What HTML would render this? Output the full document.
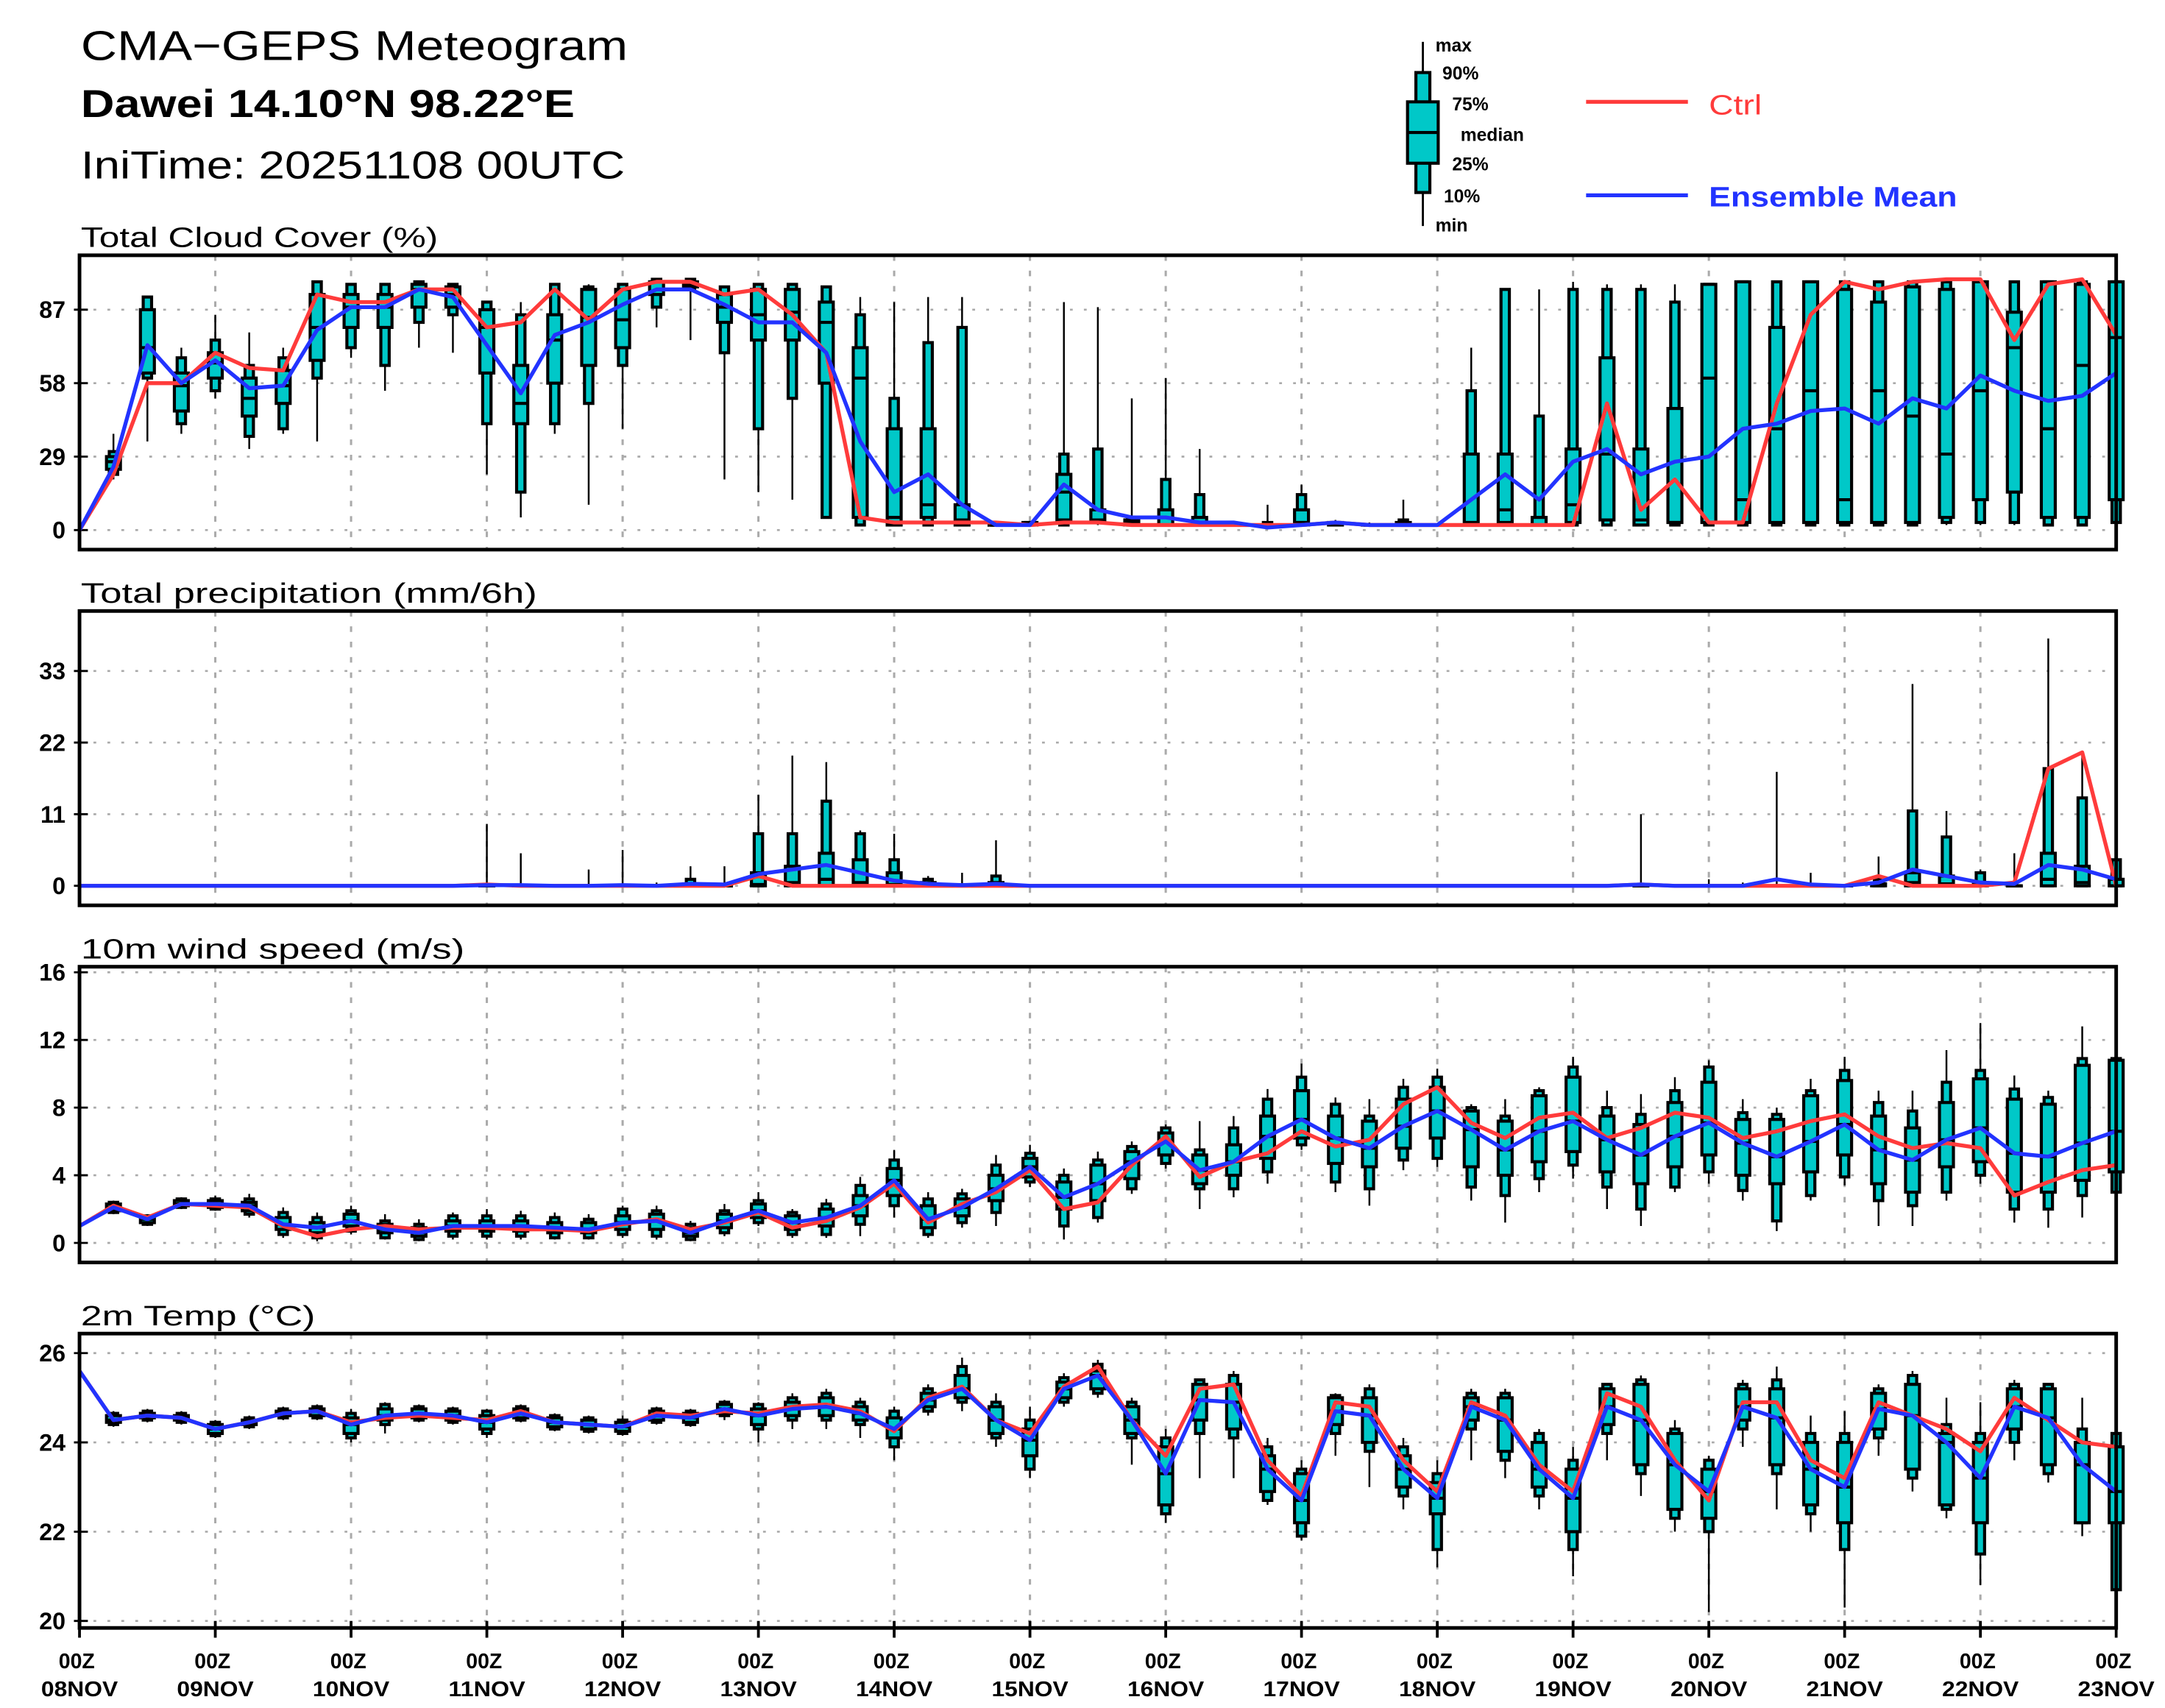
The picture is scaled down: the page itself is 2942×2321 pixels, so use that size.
<!DOCTYPE html>
<html><head><meta charset="utf-8"><style>
html,body{margin:0;padding:0;background:#fff;}
svg{display:block;}
text{font-family:"Liberation Sans",sans-serif;}
</style></head><body>
<svg id="chart" xmlns="http://www.w3.org/2000/svg" width="2942" height="2321" viewBox="0 0 1552 1224.4" preserveAspectRatio="none">
<rect x="0" y="0" width="1552" height="1224.4" fill="#fff"/>
<text x="58" y="43" font-size="30" textLength="392" lengthAdjust="spacingAndGlyphs">CMA−GEPS Meteogram</text>
<text x="58" y="84" font-size="28" font-weight="bold" textLength="354" lengthAdjust="spacingAndGlyphs">Dawei 14.10°N 98.22°E</text>
<text x="58" y="128" font-size="28" textLength="390" lengthAdjust="spacingAndGlyphs">IniTime: 20251108 00UTC</text>
<g id="legend">
  <line x1="1020" y1="30" x2="1020" y2="162" stroke="#000" stroke-width="1.5"/>
  <rect x="1015" y="52" width="10" height="86" fill="#00c8c8" stroke="#000" stroke-width="2.2"/>
  <rect x="1009" y="73" width="22" height="44" fill="#00c8c8" stroke="#000" stroke-width="2.2"/>
  <line x1="1009" y1="95" x2="1031" y2="95" stroke="#000" stroke-width="2.2"/>
  <g font-size="13" font-weight="bold">
  <text x="1029" y="37">max</text><text x="1034" y="57">90%</text><text x="1041" y="79">75%</text>
  <text x="1047" y="101">median</text><text x="1041" y="122">25%</text><text x="1035" y="145">10%</text><text x="1029" y="166">min</text>
  </g>
  <line x1="1137" y1="73" x2="1210" y2="73" stroke="#ff3b3b" stroke-width="2.8"/>
  <text x="1225" y="82" font-size="20" fill="#ff3b3b" textLength="38" lengthAdjust="spacingAndGlyphs">Ctrl</text>
  <line x1="1137" y1="140" x2="1210" y2="140" stroke="#2233ff" stroke-width="2.8"/>
  <text x="1225" y="148" font-size="20" fill="#2233ff" font-weight="bold" textLength="178" lengthAdjust="spacingAndGlyphs">Ensemble Mean</text>
</g>
<g id="panels"></g>
</svg>
<script>
// ---------- data ----------
const days = ["08NOV","09NOV","10NOV","11NOV","12NOV","13NOV","14NOV","15NOV","16NOV","17NOV","18NOV","19NOV","20NOV","21NOV","22NOV","23NOV"];
// Cloud cover (%)
const tccMin=[0,20,35,38,52,32,38,35,68,55,72,70,22,5,38,10,40,80,75,20,15,12,5,2,2,2,2,2,2,2,2,2,2,2,2,2,2,2,2,2,2,2,2,2,2,2,2,2,2,2,2,2,2,2,2,2,2,2,2,2,2];
const tccP10=[0,22,60,42,55,37,40,60,72,65,82,85,42,15,42,50,65,88,95,70,40,52,5,2,2,2,2,2,2,2,3,2,2,2,2,2,2,2,2,2,2,2,2,2,2,2,2,2,2,2,2,2,2,2,2,3,3,3,2,2,3];
const tccQ1=[0,24,62,47,60,45,50,67,80,80,88,88,62,42,58,65,72,93,96,82,75,75,58,5,2,5,2,2,2,4,3,2,2,2,2,2,2,2,2,2,2,2,3,2,3,4,2,3,3,3,3,3,3,3,3,5,12,15,5,5,12];
const tccMed=[0,27,72,57,66,52,57,80,88,88,95,93,80,50,75,84,83,98,97,88,85,86,82,60,5,10,4,2,2,15,4,3,2,3,2,2,3,2,2,2,2,3,8,2,10,30,4,3,60,12,40,55,12,55,45,30,55,72,40,65,76];
const tccQ3=[0,29,87,62,70,60,63,93,93,93,97,96,87,65,85,95,95,98,98,93,95,95,90,72,40,40,10,2,3,22,8,4,8,5,2,2,8,3,2,3,2,30,30,5,32,68,32,48,97,98,80,98,95,90,96,95,98,86,98,97,98];
const tccP90=[0,31,92,68,75,65,68,98,97,97,98,97,90,85,97,96,97,99,99,96,97,97,96,85,52,74,80,2,3,30,32,5,20,14,2,3,14,3,2,4,2,55,95,45,95,95,95,90,97,98,98,98,98,98,98,98,98,98,98,98,98];
const tccMax=[0,38,92,72,85,78,72,98,97,97,98,97,90,90,97,97,97,99,99,96,97,97,96,92,90,92,92,2,3,90,88,52,60,32,2,10,18,4,3,12,2,72,95,95,98,97,97,97,97,98,98,98,98,98,98,98,98,98,98,98,98];
const tccCtrl=[0,22,58,58,70,64,63,93,90,90,95,95,80,82,95,83,95,98,98,93,95,85,70,5,3,3,3,3,2,3,3,2,2,2,2,2,2,3,2,2,2,2,2,2,2,50,8,20,3,3,50,85,98,95,98,99,99,75,97,99,77];
const tccMean=[0,25,73,58,67,56,57,79,88,88,95,92,73,54,77,82,89,95,95,89,82,82,70,35,15,22,10,2,2,18,8,5,5,3,3,1,2,3,2,2,2,12,22,12,27,32,22,27,29,40,42,47,48,42,52,48,61,55,51,53,62];
// Precipitation (mm/6h)
const prMin=[0,0,0,0,0,0,0,0,0,0,0,0,0,0,0,0,0,0,0,0,0,0,0,0,0,0,0,0,0,0,0,0,0,0,0,0,0,0,0,0,0,0,0,0,0,0,0,0,0,0,0,0,0,0,0,0,0,0,0,0,0];
const prP10=prMin;
const prQ1=[0,0,0,0,0,0,0,0,0,0,0,0,0,0,0,0,0,0,0,0,0,0,0,0,0,0,0,0,0,0,0,0,0,0,0,0,0,0,0,0,0,0,0,0,0,0,0,0,0,0,0,0,0,0,0,0,0,0,0,0,0];
const prMed=[0,0,0,0,0,0,0,0,0,0,0,0,0,0,0,0,0,0,0,0,0.2,0.5,1,0.5,0.2,0,0,0,0,0,0,0,0,0,0,0,0,0,0,0,0,0,0,0,0,0,0,0,0,0,0,0,0,0,0.5,0.3,0,0,1,0.5,0];
const prQ3=[0,0,0,0,0,0,0,0,0,0,0,0,0,0,0,0,0,0,0.3,0,2,3,5,4,2,0.5,0,0.5,0,0,0,0,0,0,0,0,0,0,0,0,0,0,0,0,0,0,0,0,0,0,0,0,0,0.3,2,1.5,0.5,0,5,3,1];
const prP90=[0,0,0,0,0,0,0,0,0,0,0,0,0,0,0,0,0,0,1,0,8,8,13,8,4,1,0,1.5,0,0,0,0,0,0,0,0,0,0,0,0,0,0,0,0,0,0,0,0,0,0,0,0,0,1,11.5,7.5,2,0,18,13.5,4];
const prMax=[0,0,0,0,0,0,0,0,0,0,0,0,9.5,5,0,2.5,5.5,0.5,3,3,14,20,19,8.5,8,1.5,2,7,0,0,0,0,0,0,0,0,0,0,0,0,0,0,0,0,0,0,11,0,1,0.5,17.5,2,0,4.5,31,11.5,2.5,5,38,20,5];
const prCtrl=[0,0,0,0,0,0,0,0,0,0,0,0,0.2,0,0,0,0,0,0,0,1.5,0,0,0,0,0,0,0,0,0,0,0,0,0,0,0,0,0,0,0,0,0,0,0,0,0,0.2,0,0,0,0,0,0,1.5,0,0,0,0.5,18,20.5,0];
const prMean=[0,0,0,0,0,0,0,0,0,0,0,0,0.1,0.1,0,0,0.1,0,0.3,0.2,1.8,2.5,3.2,2,0.8,0.3,0.1,0.3,0,0,0,0,0,0,0,0,0,0,0,0,0,0,0,0,0,0,0.2,0,0,0,1,0.2,0,0.5,2.5,1.5,0.5,0.3,3.2,2.5,1];
// 10m wind speed (m/s)
const wsMin=[1,1.7,1.0,2.0,1.9,1.5,0.3,0.1,0.5,0.2,0.1,0.2,0.2,0.2,0.2,0.2,0.3,0.2,0.1,0.4,1.0,0.3,0.3,0.4,1.5,0.3,0.9,1.0,3.3,0.2,1.2,2.9,4.4,2.0,2.7,3.5,5.5,3.0,2.2,4.3,4.5,2.5,1.2,3.0,3.8,2.0,1.0,3.0,3.5,2.5,0.7,2.5,3.4,1.0,1.0,2.5,3.5,1.2,0.9,1.5,1.2];
const wsP10=[1,1.8,1.1,2.1,2.0,1.7,0.5,0.3,0.7,0.3,0.2,0.4,0.4,0.4,0.3,0.3,0.5,0.4,0.2,0.6,1.2,0.5,0.5,1.1,2.2,0.5,1.2,1.8,3.6,1.0,1.5,3.2,4.7,3.2,3.2,4.2,5.8,3.6,3.2,4.9,5.0,3.3,2.8,3.8,4.6,3.3,2.0,3.3,4.2,3.1,1.3,2.8,3.9,2.5,2.2,3.0,4.0,2.0,2.0,2.8,3.0];
const wsQ1=[1,1.9,1.2,2.2,2.1,1.9,0.8,0.6,1.0,0.6,0.4,0.7,0.7,0.7,0.6,0.6,0.8,0.8,0.4,0.9,1.5,0.8,1.0,1.6,2.8,0.9,1.6,2.5,3.9,2.0,2.5,3.8,5.2,3.5,4.0,5.0,6.2,4.7,4.5,5.6,6.2,4.5,4.0,4.8,5.4,4.2,3.5,4.5,5.2,4.0,3.5,4.2,5.2,3.5,3.0,4.5,4.8,3.0,3.0,3.7,4.2];
const wsMed=[1,2.1,1.4,2.3,2.3,2.2,1.1,0.9,1.3,0.8,0.6,1.0,1.0,1.0,0.9,0.8,1.2,1.3,0.6,1.3,1.9,1.2,1.5,2.2,3.7,1.4,2.1,3.2,4.5,2.7,3.5,4.8,6.0,4.3,4.8,6.3,7.3,6.2,5.6,6.9,7.8,6.7,5.5,6.6,7.2,6.1,5.2,6.3,7.1,5.9,5.1,6.0,7.0,5.5,4.9,6.1,6.8,5.3,5.1,5.9,6.6];
const wsQ3=[1,2.3,1.5,2.5,2.5,2.4,1.5,1.2,1.7,1.1,0.9,1.3,1.3,1.3,1.2,1.2,1.6,1.7,0.9,1.7,2.3,1.6,2.0,2.8,4.4,2.2,2.6,4.0,5.0,3.6,4.6,5.4,6.5,5.2,5.8,7.5,9.0,7.5,7.2,8.5,9.2,7.8,7.2,8.7,9.8,7.5,7.0,8.3,9.5,7.3,7.3,8.7,9.6,7.5,6.8,8.3,9.7,8.5,8.2,10.5,10.8];
const wsP90=[1,2.4,1.6,2.6,2.6,2.6,1.8,1.5,1.9,1.3,1.1,1.6,1.6,1.6,1.5,1.4,2.0,1.9,1.1,1.9,2.5,1.8,2.3,3.4,4.9,2.6,2.9,4.6,5.3,4.0,4.9,5.7,6.8,5.5,6.8,8.5,9.8,8.2,7.5,9.2,9.8,8.0,7.5,9.0,10.4,8.0,7.6,9.0,10.4,7.7,7.6,9.0,10.2,8.3,7.8,9.5,10.2,9.1,8.6,10.9,10.9];
const wsMax=[1,2.5,1.7,2.7,2.8,2.9,2.1,1.8,2.2,1.7,1.4,1.8,2.0,1.9,1.8,1.7,2.2,2.2,1.3,2.3,3.0,2.0,2.6,3.9,5.5,3.0,3.2,5.2,5.8,4.4,5.4,6.0,7.0,7.2,7.5,9.1,10.6,8.6,8.5,9.7,10.3,8.2,8.5,9.2,11.0,9.0,8.8,9.8,10.8,8.5,8.0,9.7,11.0,9.0,9.0,11.4,13.0,9.9,9.0,12.8,11.0];
const wsCtrl=[1,2.2,1.5,2.3,2.2,2.1,1.0,0.4,0.8,1.0,0.8,0.9,0.9,0.8,0.8,0.7,1.1,1.4,0.8,1.2,1.8,0.9,1.3,2.1,3.5,1.2,2.3,3.0,4.3,2.0,2.4,4.6,6.3,3.9,4.8,5.3,6.6,5.7,6.1,8.2,9.2,7.1,6.2,7.4,7.7,6.2,6.8,7.7,7.4,6.2,6.6,7.2,7.6,6.3,5.6,5.9,5.6,2.8,3.6,4.3,4.6];
const wsMean=[1,2.1,1.4,2.3,2.3,2.2,1.1,0.9,1.3,0.8,0.6,1.0,1.0,1.0,0.9,0.8,1.2,1.3,0.6,1.3,1.9,1.2,1.5,2.2,3.7,1.4,2.1,3.2,4.5,2.7,3.5,4.8,6.0,4.3,4.8,6.3,7.3,6.2,5.6,6.9,7.8,6.7,5.5,6.6,7.2,6.1,5.2,6.3,7.1,5.9,5.1,6.0,7.0,5.5,4.9,6.1,6.8,5.3,5.1,5.9,6.6];
// 2m temperature (°C)
const t2Min=[25.6,24.35,24.45,24.4,24.1,24.3,24.5,24.5,24.0,24.2,24.45,24.4,24.1,24.45,24.25,24.2,24.15,24.4,24.35,24.5,24.0,24.3,24.3,24.1,23.6,24.6,24.7,23.9,23.2,24.8,25.0,23.5,22.2,23.2,23.2,22.6,21.8,23.7,23.0,22.5,21.2,23.6,23.2,22.5,21.0,23.6,22.8,22.0,20.2,23.9,22.5,22.0,20.3,23.7,22.9,22.3,20.8,23.6,23.1,21.9,20.6];
const t2P10=[25.6,24.4,24.5,24.45,24.15,24.35,24.55,24.55,24.1,24.4,24.5,24.45,24.2,24.5,24.3,24.25,24.2,24.45,24.4,24.6,24.3,24.5,24.5,24.4,23.9,24.7,24.9,24.1,23.4,24.9,25.1,24.1,22.4,24.2,24.1,22.7,21.9,24.2,23.8,22.8,21.6,24.3,23.6,22.8,21.6,24.2,23.3,22.3,22.0,24.3,23.3,22.4,21.6,24.1,23.2,22.5,21.5,24.0,23.3,22.2,20.7];
const t2Q1=[25.6,24.45,24.55,24.5,24.2,24.4,24.6,24.6,24.2,24.5,24.55,24.5,24.3,24.55,24.35,24.3,24.25,24.5,24.45,24.65,24.4,24.6,24.6,24.5,24.1,24.8,25.0,24.2,23.7,25.0,25.2,24.2,22.6,24.5,24.3,22.9,22.2,24.4,24.0,23.0,22.4,24.5,23.8,23.0,22.0,24.4,23.5,22.5,22.3,24.5,23.5,22.6,22.2,24.3,23.4,22.6,22.2,24.3,23.5,22.2,22.2];
const t2Med=[25.6,24.5,24.6,24.55,24.3,24.45,24.65,24.7,24.4,24.6,24.65,24.6,24.45,24.65,24.45,24.4,24.35,24.6,24.55,24.75,24.6,24.75,24.8,24.65,24.3,24.95,25.2,24.5,24.05,25.2,25.5,24.5,23.3,24.95,24.9,23.4,22.7,24.7,24.6,23.4,22.75,24.8,24.5,23.4,22.75,24.8,24.5,23.5,22.9,24.8,24.55,23.4,23.0,24.75,24.6,24.0,23.2,24.8,24.55,23.5,22.9];
const t2Q3=[25.6,24.6,24.65,24.6,24.4,24.5,24.7,24.75,24.55,24.75,24.75,24.7,24.6,24.75,24.55,24.5,24.45,24.7,24.65,24.85,24.75,24.9,25.0,24.8,24.55,25.1,25.5,24.8,24.3,25.35,25.6,24.8,23.9,25.3,25.3,23.7,23.3,25.0,25.0,23.7,23.1,25.0,25.0,24.0,23.4,25.2,25.3,24.2,23.4,25.2,25.2,24.0,24.0,25.1,25.3,24.2,24.0,25.2,25.2,24.0,23.9];
const t2P90=[25.6,24.65,24.7,24.65,24.45,24.55,24.75,24.8,24.65,24.85,24.8,24.75,24.7,24.8,24.6,24.55,24.5,24.75,24.7,24.9,24.85,25.0,25.1,24.9,24.7,25.2,25.7,24.9,24.5,25.45,25.75,24.9,24.1,25.4,25.5,23.9,23.4,25.05,25.2,23.9,23.3,25.1,25.1,24.2,23.6,25.3,25.4,24.3,23.6,25.3,25.4,24.2,24.2,25.2,25.5,24.4,24.2,25.3,25.3,24.3,24.2];
const t2Max=[25.6,24.7,24.75,24.7,24.5,24.6,24.8,24.85,24.75,24.9,24.85,24.8,24.75,24.85,24.65,24.6,24.6,24.8,24.75,24.95,24.9,25.1,25.2,25.0,24.8,25.3,25.9,25.1,24.8,25.55,25.85,25.0,24.3,25.4,25.6,24.1,23.6,25.1,25.3,24.1,23.6,25.2,25.2,24.3,23.9,25.3,25.5,24.5,23.7,25.4,25.7,24.6,24.7,25.3,25.6,25.0,24.9,25.4,25.3,25.0,24.3];
const t2Ctrl=[25.6,24.5,24.6,24.55,24.3,24.45,24.65,24.7,24.45,24.55,24.6,24.55,24.5,24.7,24.45,24.4,24.35,24.65,24.6,24.7,24.65,24.8,24.85,24.7,24.25,25.0,25.25,24.5,24.2,25.25,25.7,24.5,23.7,25.2,25.3,23.6,22.8,24.9,24.8,23.6,22.9,24.9,24.6,23.5,22.9,25.1,24.8,23.6,22.7,24.9,24.9,23.6,23.2,24.9,24.6,24.3,23.8,25.0,24.5,24.0,23.9];
const t2Mean=[25.6,24.5,24.6,24.55,24.3,24.45,24.65,24.7,24.4,24.6,24.65,24.6,24.45,24.65,24.45,24.4,24.35,24.6,24.55,24.75,24.6,24.75,24.8,24.65,24.3,24.95,25.2,24.5,24.05,25.2,25.5,24.5,23.3,24.95,24.9,23.4,22.7,24.7,24.6,23.4,22.75,24.8,24.5,23.4,22.75,24.8,24.5,23.5,22.9,24.8,24.55,23.4,23.0,24.75,24.6,24.0,23.2,24.8,24.55,23.5,22.9];

const tccTicks=[0,29,58,87], prTicks=[0,11,22,33], wsTicks=[0,4,8,12,16], t2Ticks=[20,22,24,26];

// ---------- drawing ----------
const NS="http://www.w3.org/2000/svg";
const root=document.getElementById('panels');
const X0=57, X1=1517, NSTEP=60;
function xAt(i){return X0+(X1-X0)*i/NSTEP;}
function mk(tag,attrs,parent){const e=document.createElementNS(NS,tag);for(const k in attrs)e.setAttribute(k,attrs[k]);(parent||root).appendChild(e);return e;}

function panel(cfg){
  const g=mk('g',{});
  
  
  const yv=v=>cfg.y0+(v-cfg.v0)*(cfg.y1-cfg.y0)/(cfg.v1-cfg.v0);
  const t=mk('text',{x:58,y:cfg.top-6,'font-size':20,textLength:cfg.tw,lengthAdjust:'spacingAndGlyphs'},g);
  t.textContent=cfg.title;
  
  
  for(let d=1;d<15;d++){
    const gl=mk('line',{x1:xAt(d*4),x2:xAt(d*4),y1:cfg.top,y2:cfg.bottom,stroke:'#aaa','stroke-width':1.6,'stroke-dasharray':'4 7'},g);
    
    
  }
  cfg.ticks.forEach(v=>{
    const y=yv(v);
    const hl=mk('line',{x1:X0,x2:X1,y1:y,y2:y,stroke:'#aaa','stroke-width':1.4,'stroke-dasharray':'2 8'},g);
    
    
    mk('line',{x1:X0-4,x2:X0+6,y1:y,y2:y,stroke:'#000','stroke-width':1.5},g);
    const lb=mk('text',{x:47,y:y+6,'font-size':17,'font-weight':'bold','text-anchor':'end'},g);
    lb.textContent=v;
    
    
  });
  const d=cfg.d;
  for(let i=1;i<=NSTEP;i++){
    const x=xAt(i);
    const bg=mk('g',{},g);
    
    
    mk('line',{x1:x,x2:x,y1:yv(d.mn[i]),y2:yv(d.mx[i]),stroke:'#000','stroke-width':1.3},bg);
    const a=yv(d.p90[i]),b=yv(d.p10[i]);
    mk('rect',{x:x-3,y:a,width:6,height:Math.max(b-a,0.1),fill:'#00c8c8',stroke:'#000','stroke-width':2.2},bg);
    const c=yv(d.q3[i]),e=yv(d.q1[i]);
    mk('rect',{x:x-5,y:c,width:10,height:Math.max(e-c,0.1),fill:'#00c8c8',stroke:'#000','stroke-width':2.2},bg);
    const m=yv(d.med[i]);
    mk('line',{x1:x-5,x2:x+5,y1:m,y2:m,stroke:'#000','stroke-width':2.2},bg);
  }
  const path=arr=>arr.map((v,i)=>(i?'L':'M')+xAt(i).toFixed(2)+' '+yv(v).toFixed(2)).join(' ');
  const cl=mk('path',{d:path(d.ctrl),fill:'none',stroke:'#ff3b3b','stroke-width':2.8,'stroke-linejoin':'round'},g);
  
  
  const ml=mk('path',{d:path(d.mean),fill:'none',stroke:'#2233ff','stroke-width':2.8,'stroke-linejoin':'round'},g);
  
  
  const fr=mk('rect',{x:X0,y:cfg.top,width:X1-X0,height:cfg.bottom-cfg.top,fill:'none',stroke:'#000','stroke-width':2.6},g);
  
  
}

panel({name:'cloud-cover-panel',title:'Total Cloud Cover (%)',tw:256,top:183,bottom:394,v0:0,y0:380,v1:87,y1:222,ticks:tccTicks,
  d:{mn:tccMin,p10:tccP10,q1:tccQ1,med:tccMed,q3:tccQ3,p90:tccP90,mx:tccMax,ctrl:tccCtrl,mean:tccMean}});
panel({name:'precip-panel',title:'Total precipitation (mm/6h)',tw:327,top:438,bottom:649,v0:0,y0:635,v1:33,y1:481,ticks:prTicks,
  d:{mn:prMin,p10:prP10,q1:prQ1,med:prMed,q3:prQ3,p90:prP90,mx:prMax,ctrl:prCtrl,mean:prMean}});
panel({name:'wind-panel',title:'10m wind speed (m/s)',tw:275,top:693,bottom:905,v0:0,y0:891,v1:16,y1:697,ticks:wsTicks,
  d:{mn:wsMin,p10:wsP10,q1:wsQ1,med:wsMed,q3:wsQ3,p90:wsP90,mx:wsMax,ctrl:wsCtrl,mean:wsMean}});
panel({name:'temp-panel',title:'2m Temp (°C)',tw:168,top:956,bottom:1167,v0:20,y0:1162,v1:26,y1:970,ticks:t2Ticks,
  d:{mn:t2Min,p10:t2P10,q1:t2Q1,med:t2Med,q3:t2Q3,p90:t2P90,mx:t2Max,ctrl:t2Ctrl,mean:t2Mean}});

days.forEach((lab,k)=>{
  const x=xAt(k*4);
  mk('line',{x1:x,x2:x,y1:1162,y2:1174,stroke:'#000','stroke-width':2});
  const a=mk('text',{x:x-2,y:1196,'font-size':15,'font-weight':'bold','text-anchor':'middle'});
  a.textContent='00Z';
  
  
  const b=mk('text',{x:x,y:1216,'font-size':15,'font-weight':'bold','text-anchor':'middle',textLength:55,lengthAdjust:'spacingAndGlyphs'});
  b.textContent=lab;
  
  
});
</script>
</body></html>
